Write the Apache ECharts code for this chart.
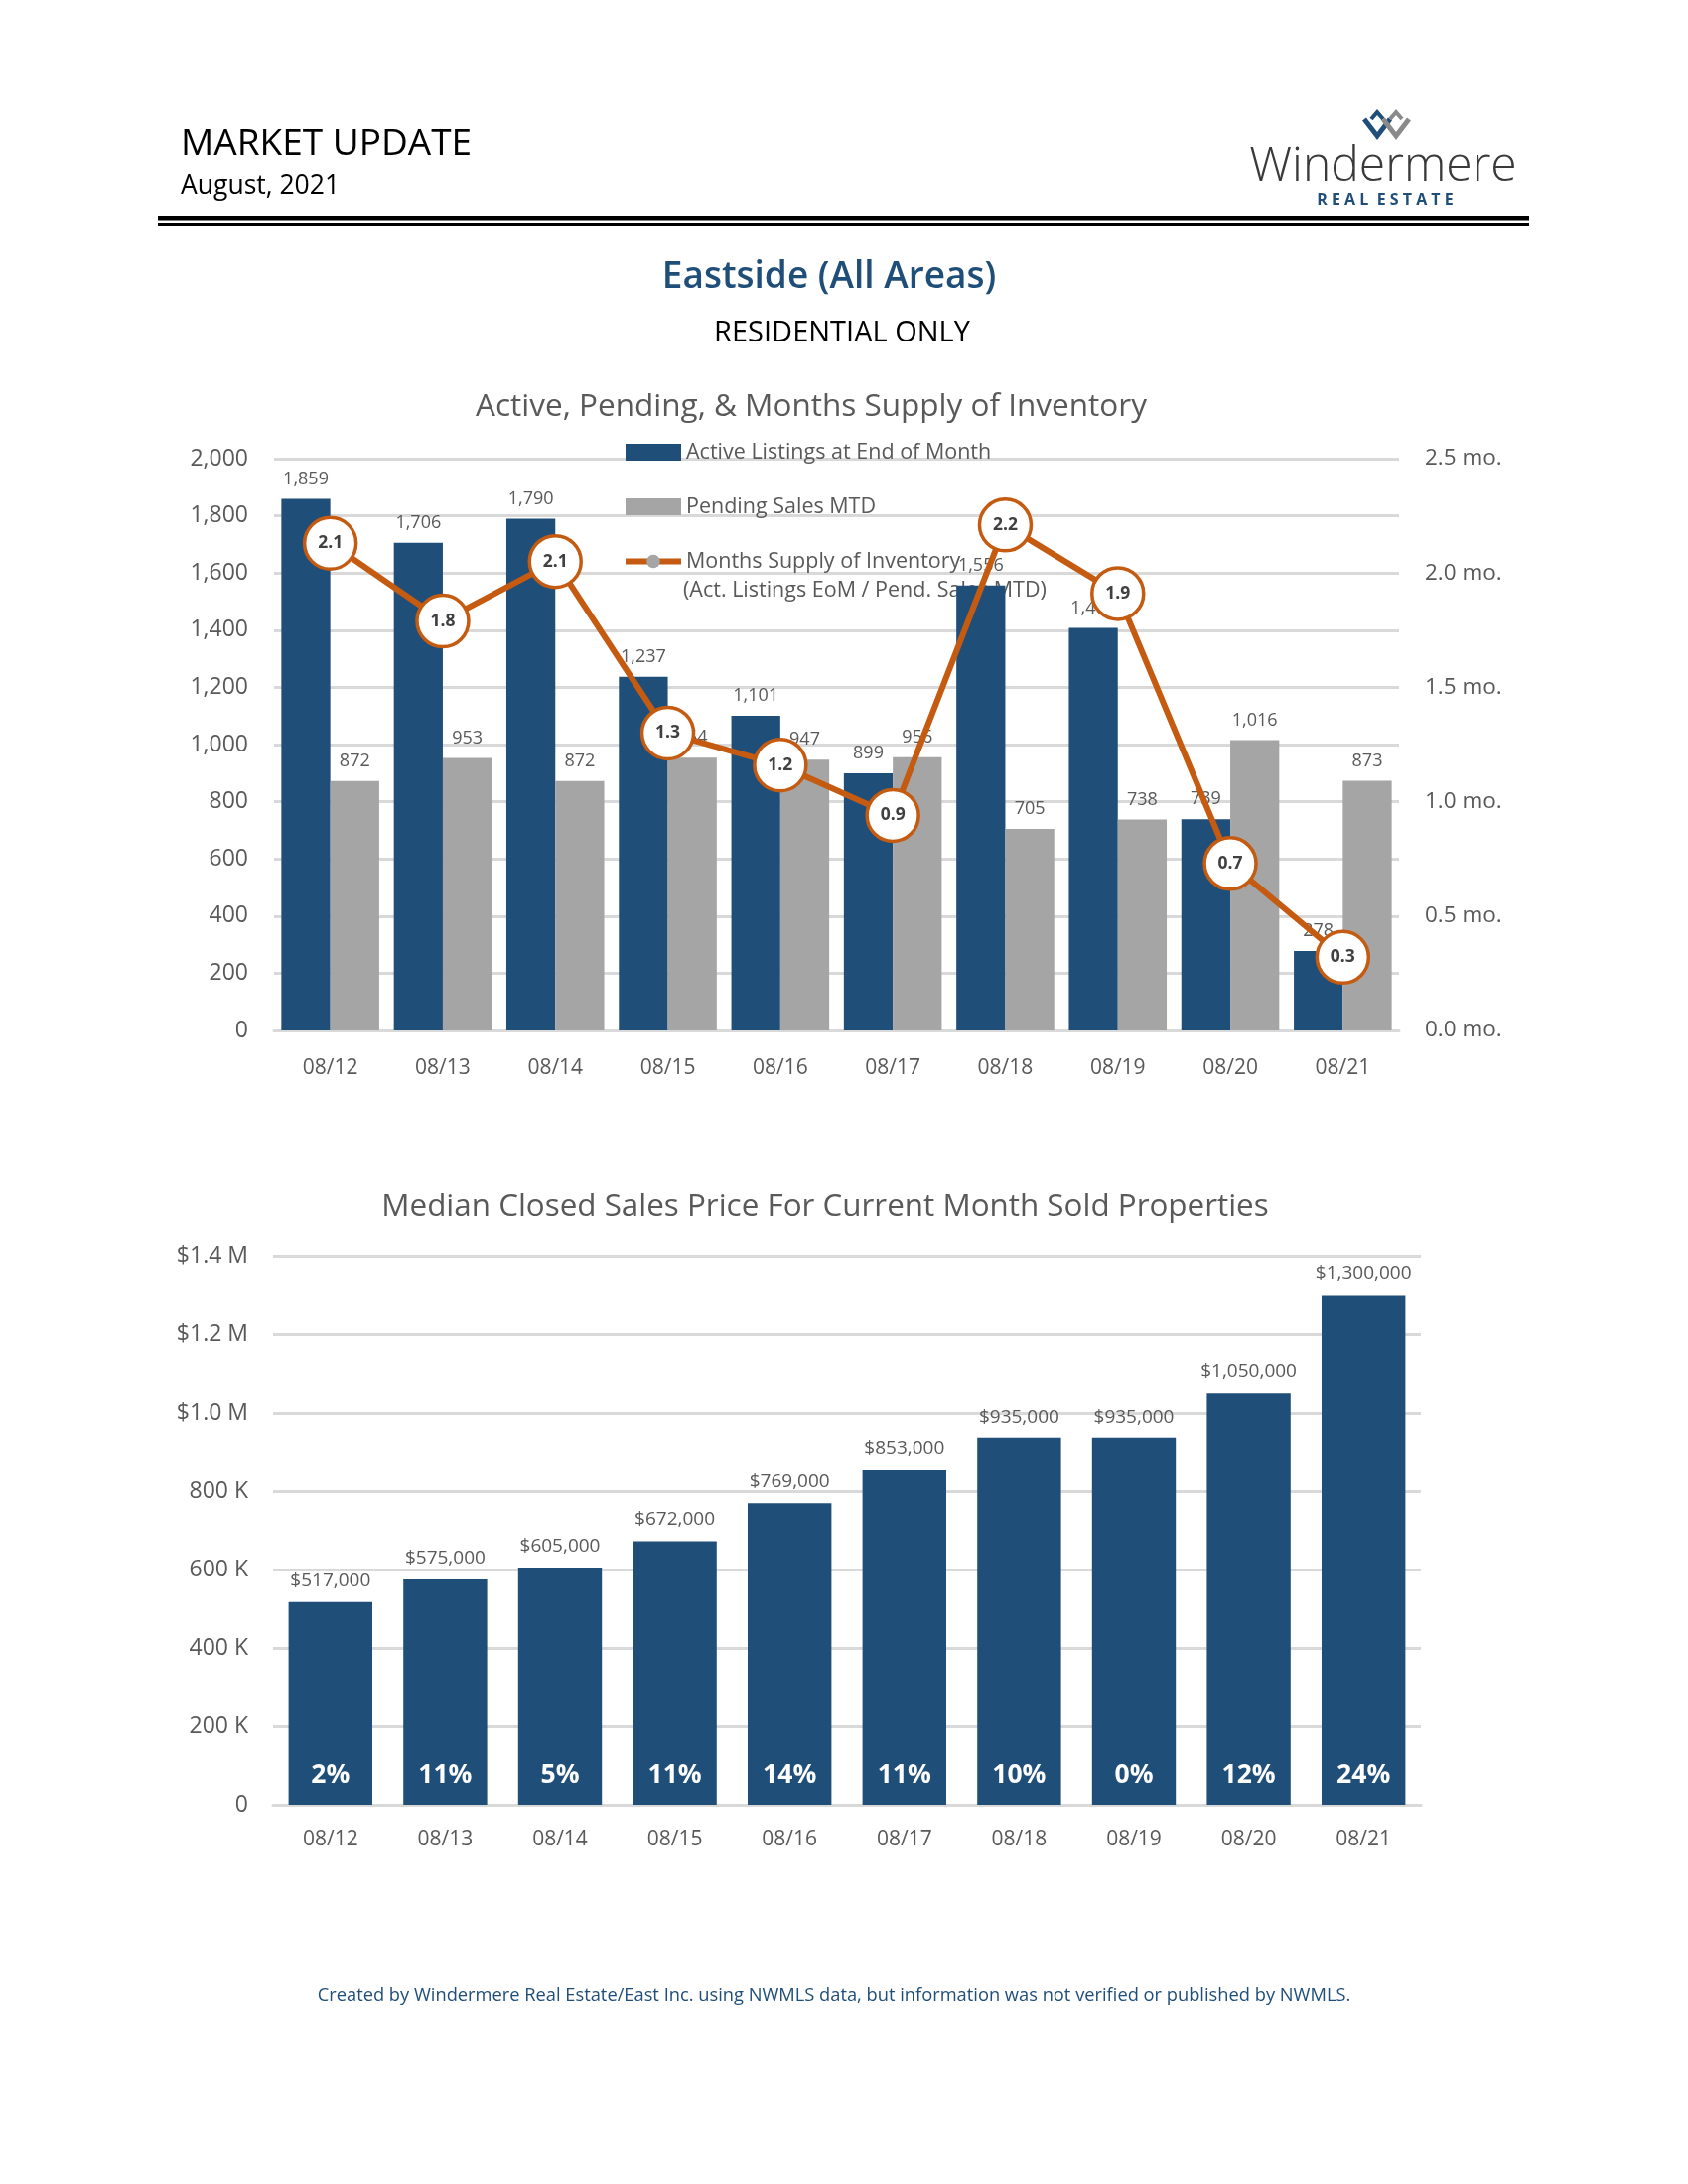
<!DOCTYPE html>
<html><head><meta charset="utf-8">
<script src="https://cdn.jsdelivr.net/npm/echarts@6/dist/echarts.min.js"></script>
<style>html,body{margin:0;padding:0;background:#fff;overflow:hidden}#c{width:1700px;height:2200px}</style>
</head><body><div id="c"></div>
<script>
// ---- data ----
const categories = ['08/12','08/13','08/14','08/15','08/16','08/17','08/18','08/19','08/20','08/21'];
const activeListings = [1859,1706,1790,1237,1101,899,1556,1408,739,278];
const pendingSales = [872,953,872,954,947,956,705,738,1016,873];
const monthsSupply = [2.13,1.79,2.05,1.30,1.16,0.94,2.21,1.91,0.73,0.32];
const medianPrice = [517000,575000,605000,672000,769000,853000,935000,935000,1050000,1300000];
const priceChangePct = [2,11,5,11,14,11,10,0,12,24];
const priceTickLabels = {0:'0',200000:'200 K',400000:'400 K',600000:'600 K',800000:'800 K',1000000:'$1.0 M',1200000:'$1.2 M',1400000:'$1.4 M'};

const FF = '"Open Sans","Noto Sans",sans-serif';
const GRAY = '#595959';
const NAVY = '#1f4e79';
const ORANGE = '#c55a11';
const fmt = n => n.toLocaleString('en-US');
const one = v => (Math.round(v*10 + 1e-6)/10).toFixed(1);

const chart = echarts.init(document.getElementById('c'), null, {renderer:'canvas'});

const txt = (x,y,text,size,color,align,weight) => ({
  type:'text', x:x, y:y,
  style:{text:text, fontSize:size, fill:color, fontFamily:FF, align:align||'left', verticalAlign:'middle', fontWeight:weight||'normal'}
});
const LX = 16; // logo shift
const option = {
  backgroundColor:'#fff',
  textStyle:{fontFamily:FF},
  animation:false,
  graphic:[
    txt(182,145,'MARKET UPDATE',37,'#000'),
    txt(182,187,'August, 2021',26.5,'#000'),
    txt(1393,168,'Windermere',48,'#3a3a3a','center','300'),
    txt(1395,201,'R E A L  E S T A T E',16,NAVY,'center','bold'),
    {type:'polyline', shape:{points:[[1358+LX,120],[1371+LX,137],[1384+LX,120]]}, style:{stroke:NAVY, lineWidth:5, fill:null}},
    {type:'polyline', shape:{points:[[1365+LX,120],[1371+LX,113],[1377+LX,120]]}, style:{stroke:NAVY, lineWidth:4, fill:null}},
    {type:'polyline', shape:{points:[[1377+LX,120],[1390+LX,137],[1403+LX,120]]}, style:{stroke:'#8a8a8a', lineWidth:5, fill:null}},
    {type:'polyline', shape:{points:[[1384+LX,120],[1390+LX,113],[1396+LX,120]]}, style:{stroke:'#8a8a8a', lineWidth:4, fill:null}},
    {type:'rect', shape:{x:159,y:218,width:1381,height:4.5}, style:{fill:'#000'}},
    {type:'rect', shape:{x:159,y:225,width:1381,height:3}, style:{fill:'#000'}},
    txt(835,279,'Eastside (All Areas)',37,NAVY,'center','600'),
    txt(848,336,'RESIDENTIAL ONLY',29,'#000','center'),
    txt(817,410,'Active, Pending, & Months Supply of Inventory',31.5,GRAY,'center'),
    txt(688,595,'(Act. Listings EoM / Pend. Sales MTD)',21.5,GRAY,'left'),
    txt(831,1216,'Median Closed Sales Price For Current Month Sold Properties',31.4,GRAY,'center'),
    txt(840,2011,'Created by Windermere Real Estate/East Inc. using NWMLS data, but information was not verified or published by NWMLS.',18.3,NAVY,'center')
  ],
  legend:{
    orient:'vertical', left:622, top:438, itemWidth:56, itemHeight:17, itemGap:30,
    textStyle:{color:GRAY, fontSize:21.5, fontFamily:FF, lineHeight:25},
    data:[
      {name:'Active Listings at End of Month', icon:'rect'},
      {name:'Pending Sales MTD', icon:'rect'},
      {name:'Months Supply of Inventory', itemStyle:{color:'#a5a5a5', borderColor:'#a5a5a5', borderWidth:0}, lineStyle:{color:ORANGE, width:6}}
    ]
  },
  grid:[
    {left:276, top:462, width:1133, height:576},
    {left:275, top:1265, width:1156, height:553}
  ],
  xAxis:[
    {type:'category', gridIndex:0, data:categories,
     axisLine:{lineStyle:{color:'#d9d9d9', width:3}}, axisTick:{show:false},
     axisLabel:{color:GRAY, fontSize:21, margin:28}},
    {type:'category', gridIndex:1, data:categories,
     axisLine:{lineStyle:{color:'#d9d9d9', width:3}}, axisTick:{show:false},
     axisLabel:{color:GRAY, fontSize:21, margin:25}}
  ],
  yAxis:[
    {type:'value', gridIndex:0, min:0, max:2000, interval:200,
     axisLine:{show:false}, axisTick:{show:false},
     axisLabel:{color:GRAY, fontSize:23, margin:26, formatter:v=>fmt(v)},
     splitLine:{lineStyle:{color:'#d9d9d9', width:3}}},
    {type:'value', gridIndex:0, min:0, max:2.5, interval:0.5, position:'right',
     axisLine:{show:false}, axisTick:{show:false},
     axisLabel:{color:GRAY, fontSize:22.5, margin:26, formatter:v=>v.toFixed(1)+' mo.'},
     splitLine:{show:false}},
    {type:'value', gridIndex:1, min:0, max:1400000, interval:200000,
     axisLine:{show:false}, axisTick:{show:false},
     axisLabel:{color:GRAY, fontSize:23, margin:25, formatter:v=>priceTickLabels[v]},
     splitLine:{lineStyle:{color:'#d9d9d9', width:3}}}
  ],
  series:[
    {name:'Active Listings at End of Month', type:'bar', xAxisIndex:0, yAxisIndex:0, data:activeListings,
     itemStyle:{color:NAVY}, barGap:'0%', barCategoryGap:'13%', z:2,
     label:{show:true, position:'top', distance:11, color:GRAY, fontSize:18, formatter:p=>fmt(p.value)}},
    {name:'Pending Sales MTD', type:'bar', xAxisIndex:0, yAxisIndex:0, data:pendingSales,
     itemStyle:{color:'#a5a5a5'}, barGap:'0%', barCategoryGap:'13%', z:2,
     label:{show:true, position:'top', distance:11, color:GRAY, fontSize:18, formatter:p=>fmt(p.value)}},
    {name:'Months Supply of Inventory', type:'line', xAxisIndex:0, yAxisIndex:1, data:monthsSupply, z:5,
     lineStyle:{color:ORANGE, width:6}, symbol:'circle', symbolSize:52,
     itemStyle:{color:'#fff', borderColor:ORANGE, borderWidth:3.5},
     label:{show:true, position:'inside', color:'#404040', fontSize:17.5, fontWeight:'bold', formatter:p=>one(p.value)}},
    {name:'Median Price', type:'bar', xAxisIndex:1, yAxisIndex:2, data:medianPrice,
     itemStyle:{color:NAVY}, barCategoryGap:'27%', barGap:'-100%', z:2,
     label:{show:true, position:'top', distance:12, color:GRAY, fontSize:19, formatter:p=>'$'+fmt(p.value)}},
    {name:'Change', type:'bar', xAxisIndex:1, yAxisIndex:2, data:medianPrice,
     itemStyle:{color:'rgba(0,0,0,0)'}, barCategoryGap:'27%', barGap:'-100%', z:3, silent:true,
     label:{show:true, position:'insideBottom', distance:16, color:'#fff', fontSize:26.5, fontWeight:'bold', formatter:p=>priceChangePct[p.dataIndex]+'%'}}
  ]
};
chart.setOption(option);
</script>
</body></html>
